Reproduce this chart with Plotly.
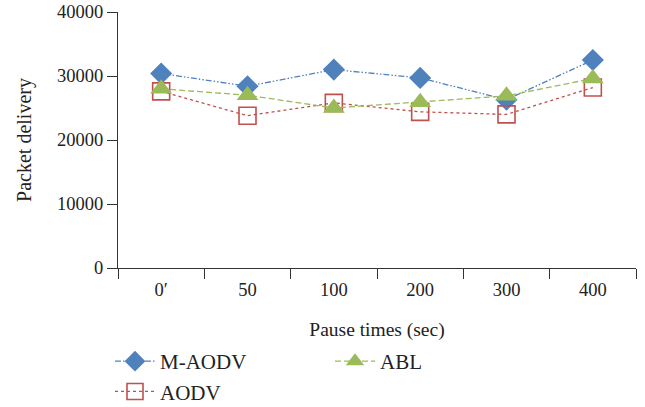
import plotly.graph_objects as go

categories = ["0′", "50", "100", "200", "300", "400"]
m_aodv = [30400, 28400, 31000, 29700, 26300, 32500]
aodv = [27600, 23800, 25800, 24400, 24000, 28200]
abl = [28000, 27000, 25000, 25900, 26900, 29600]

FONT = "Liberation Serif"
W, H = 645, 407
fig = go.Figure()
fig.add_trace(go.Scatter(
    x=categories, y=m_aodv, name="M-AODV", mode="lines+markers", legendrank=1,
    line=dict(color="#4F81BD", width=1.3, dash="6px,2px,1.5px,2px,1.5px,2px"),
    marker=dict(symbol="diamond", size=17, color="#4F81BD", line=dict(width=0))))
fig.add_trace(go.Scatter(
    x=categories, y=aodv, name="AODV", mode="lines+markers", legendrank=3,
    line=dict(color="#C0504D", width=1.3, dash="dot"),
    marker=dict(symbol="square-open", size=17, color="#C0504D", line=dict(width=1.6))))
fig.add_trace(go.Scatter(
    x=categories, y=abl, name="ABL", mode="lines+markers", legendrank=2,
    line=dict(color="#9BBB59", width=1.3, dash="6px,3px"),
    marker=dict(symbol="triangle-up", size=19, color="#9BBB59", line=dict(width=0))))

fig.update_layout(
    width=W, height=H,
    margin=dict(l=118, r=9, t=12, b=139, autoexpand=False),
    paper_bgcolor="white", plot_bgcolor="white",
    font=dict(family=FONT, size=18.5, color="#222"),
    showlegend=True,
    legend=dict(orientation="h", xref="container", yref="container",
                x=110 / W, xanchor="left", y=1 - 341 / H, yanchor="top",
                entrywidth=165, entrywidthmode="pixels",
                font=dict(family=FONT, size=21), tracegroupgap=0,
                itemwidth=40),
    xaxis=dict(type="category", showgrid=False, showline=True, linecolor="#333", linewidth=1.3,
               ticks="outside", tickson="boundaries", ticklen=10, tickcolor="#333", tickwidth=1.3,
               tickfont=dict(family=FONT, size=18.5), ticklabelstandoff=5, automargin=False,
               title=dict(text="Pause times (sec)", font=dict(family=FONT, size=19.5), standoff=29),
               range=[-0.5, 5.5]),
    yaxis=dict(range=[0, 40000], tickvals=[0, 10000, 20000, 30000, 40000],
               ticktext=["0", "10000", "20000", "30000", "40000"], showgrid=False, showline=True,
               linecolor="#333", automargin=False,
               linewidth=1.3, ticks="outside", ticklen=10, tickcolor="#333", tickwidth=1.3,
               tickfont=dict(family=FONT, size=18.5), zeroline=False,
               title=dict(text="Packet delivery", font=dict(family=FONT, size=20), standoff=19)),
)
fig.write_html("out.html", config={"displayModeBar": False},
               post_script="document.body.style.margin='0';")
